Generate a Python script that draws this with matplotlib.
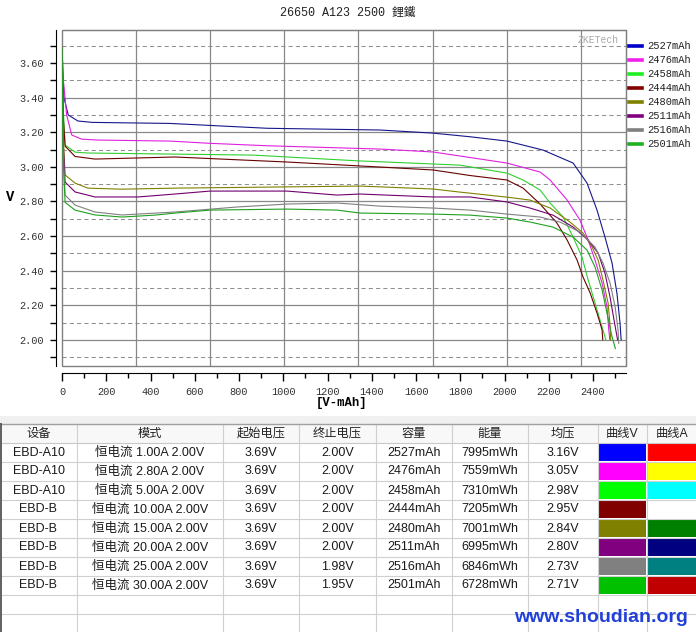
import matplotlib
matplotlib.use("Agg")
import numpy as np
import matplotlib.pyplot as plt
from matplotlib.lines import Line2D
from matplotlib.patches import Rectangle
from matplotlib.ticker import MultipleLocator, FormatStrFormatter

W, H = 696, 632

# curves: capacity (mAh) and voltage (V)
c1_mah = [0, 9, 28, 72, 136, 488, 927, 1437, 1677, 1844, 2011, 2174, 2310, 2373, 2418, 2454, 2486, 2508, 2522, 2527]
c1_v = [3.69, 3.40, 3.30, 3.265, 3.257, 3.251, 3.223, 3.213, 3.195, 3.174, 3.149, 3.097, 3.022, 2.906, 2.750, 2.594, 2.444, 2.270, 2.097, 2.00]

c2_mah = [0, 3, 21, 44, 89, 163, 488, 669, 927, 1437, 1677, 2011, 2161, 2206, 2283, 2341, 2378, 2409, 2441, 2463, 2471, 2476]
c2_v = [3.69, 3.54, 3.30, 3.184, 3.16, 3.155, 3.149, 3.136, 3.122, 3.103, 3.086, 3.022, 2.970, 2.924, 2.808, 2.692, 2.577, 2.461, 2.328, 2.190, 2.06, 2.00]

c3_mah = [0, 5, 14, 59, 117, 488, 863, 1333, 1799, 2011, 2084, 2161, 2206, 2265, 2310, 2350, 2378, 2409, 2441, 2458]
c3_v = [3.69, 3.35, 3.126, 3.085, 3.08, 3.074, 3.068, 3.035, 3.010, 2.964, 2.924, 2.866, 2.791, 2.710, 2.594, 2.479, 2.346, 2.213, 2.074, 2.00]

c4_mah = [0, 5, 14, 59, 149, 511, 1017, 1437, 1677, 1844, 2011, 2084, 2161, 2237, 2283, 2328, 2355, 2387, 2418, 2441, 2444]
c4_v = [3.69, 3.30, 3.12, 3.06, 3.045, 3.057, 3.028, 2.999, 2.982, 2.95, 2.924, 2.877, 2.785, 2.675, 2.577, 2.461, 2.363, 2.271, 2.155, 2.057, 2.00]

c5_mah = [0, 5, 14, 59, 117, 271, 511, 1347, 1677, 1799, 2011, 2115, 2206, 2296, 2355, 2396, 2423, 2445, 2468, 2476, 2480]
c5_v = [3.69, 3.20, 2.953, 2.906, 2.877, 2.871, 2.877, 2.889, 2.872, 2.854, 2.825, 2.808, 2.762, 2.681, 2.617, 2.536, 2.461, 2.346, 2.213, 2.10, 2.00]

c6_mah = [0, 5, 14, 59, 149, 344, 511, 669, 1017, 1243, 1347, 1677, 1844, 2011, 2115, 2219, 2310, 2378, 2423, 2454, 2477, 2495, 2511]
c6_v = [3.69, 3.15, 2.912, 2.855, 2.826, 2.826, 2.843, 2.860, 2.860, 2.837, 2.843, 2.826, 2.826, 2.797, 2.762, 2.721, 2.652, 2.577, 2.502, 2.386, 2.247, 2.114, 2.00]

c7_mah = [0, 5, 14, 59, 149, 271, 511, 791, 1017, 1243, 1437, 1677, 1844, 2011, 2161, 2251, 2341, 2409, 2445, 2477, 2500, 2513, 2516]
c7_v = [3.69, 3.10, 2.837, 2.779, 2.739, 2.722, 2.739, 2.768, 2.785, 2.791, 2.773, 2.762, 2.750, 2.727, 2.710, 2.681, 2.623, 2.536, 2.444, 2.328, 2.190, 2.057, 1.98]

c8_mah = [0, 5, 14, 59, 149, 271, 420, 511, 669, 1017, 1243, 1347, 1677, 1844, 2011, 2115, 2219, 2310, 2373, 2409, 2441, 2463, 2486, 2501]
c8_v = [3.69, 3.05, 2.795, 2.750, 2.722, 2.710, 2.721, 2.733, 2.750, 2.756, 2.750, 2.733, 2.727, 2.721, 2.704, 2.681, 2.652, 2.594, 2.519, 2.421, 2.288, 2.155, 2.017, 1.95]

# table values
devices = ["EBD-A10", "EBD-A10", "EBD-A10", "EBD-B", "EBD-B", "EBD-B", "EBD-B", "EBD-B"]
modes = ["恒电流 1.00A 2.00V", "恒电流 2.80A 2.00V", "恒电流 5.00A 2.00V", "恒电流 10.00A 2.00V",
         "恒电流 15.00A 2.00V", "恒电流 20.00A 2.00V", "恒电流 25.00A 2.00V", "恒电流 30.00A 2.00V"]
v_start = ["3.69V"] * 8
v_end = ["2.00V", "2.00V", "2.00V", "2.00V", "2.00V", "2.00V", "1.98V", "1.95V"]
capacity = ["2527mAh", "2476mAh", "2458mAh", "2444mAh", "2480mAh", "2511mAh", "2516mAh", "2501mAh"]
energy = ["7995mWh", "7559mWh", "7310mWh", "7205mWh", "7001mWh", "6995mWh", "6846mWh", "6728mWh"]
v_avg = ["3.16V", "3.05V", "2.98V", "2.95V", "2.84V", "2.80V", "2.73V", "2.71V"]
headers = ["设备", "模式", "起始电压", "终止电压", "容量", "能量", "均压", "曲线V", "曲线A"]

col_v = ["#0000ff", "#ff00ff", "#00ff00", "#800000", "#808000", "#800080", "#808080", "#00c000"]
col_a = ["#ff0000", "#ffff00", "#00ffff", "#ffffff", "#008000", "#000080", "#008080", "#c00000"]
line_cols = ["#16168c", "#e020e0", "#30d030", "#6a0000", "#808000", "#700070", "#808080", "#20a020"]
leg_cols = ["#0000c8", "#f020f0", "#20f020", "#800000", "#808000", "#800080", "#808080", "#20b020"]

series = [(c1_mah, c1_v), (c2_mah, c2_v), (c3_mah, c3_v), (c4_mah, c4_v),
          (c5_mah, c5_v), (c6_mah, c6_v), (c7_mah, c7_v), (c8_mah, c8_v)]

mono = "Liberation Mono"
cjk_mix = ["Liberation Mono", "Noto Sans CJK TC"]
tab_font = ["Liberation Sans", "Noto Sans CJK SC"]

fig = plt.figure(figsize=(W / 100, H / 100), dpi=100)
fig.patch.set_facecolor("white")

def fx(px):
    return px / W

def fy(py):
    return 1 - py / H

# ---- chart ----
ax = fig.add_axes([fx(62), fy(366), 564 / W, 336 / H])
ax.set_xlim(0, 2549)
ax.set_ylim(1.849, 3.791)

for y in np.arange(2.0, 3.61, 0.2):
    ax.axhline(y, color="#888888", lw=0.9, zorder=1)
for y in np.arange(1.9, 3.71, 0.2):
    ax.axhline(y, color="#909090", lw=0.75, ls=(0, (4, 3)), zorder=1)
for k in range(1, 8):
    ax.axvline(k * 335, color="#888888", lw=0.9, zorder=1)

for (x, v), c in zip(series, line_cols):
    ax.plot(x, v, color=c, lw=0.8, zorder=3)

for s in ["top", "right"]:
    ax.spines[s].set_color("#808080")
ax.spines["left"].set_position(("outward", 4))
ax.spines["bottom"].set_position(("outward", 5))
ax.spines["left"].set_color("black")
ax.spines["bottom"].set_color("black")
ax.add_patch(Rectangle((0, 0), 1, 1, transform=ax.transAxes, fill=False,
                       ec="#808080", lw=1, clip_on=False, zorder=2))

ax.yaxis.set_major_locator(MultipleLocator(0.2))
ax.yaxis.set_minor_locator(MultipleLocator(0.1))
ax.yaxis.set_major_formatter(FormatStrFormatter("%.2f"))
ax.xaxis.set_major_locator(MultipleLocator(200))
ax.xaxis.set_minor_locator(MultipleLocator(100))
ax.tick_params(axis="y", which="both", length=4, width=1, color="black", pad=5)
ax.tick_params(axis="x", which="major", length=6, width=1, color="black", pad=4)
ax.tick_params(axis="x", which="minor", length=3.5, width=1, color="black")
for lab in ax.get_xticklabels() + ax.get_yticklabels():
    lab.set_fontfamily(mono)
    lab.set_fontsize(7.4)
    lab.set_color("#333333")

fig.text(fx(348), fy(13), "26650 A123 2500 鋰鐵", ha="center", va="center",
         family=cjk_mix, fontsize=8.5, color="#222222")
fig.text(fx(10), fy(197), "V", ha="center", va="center", family=mono,
         fontweight="bold", fontsize=10)
fig.text(fx(342), fy(403), "[V-mAh]", ha="center", va="center", family=mono,
         fontweight="bold", fontsize=8.8)
fig.text(fx(598), fy(40), "ZKETech", ha="center", va="center", family=mono,
         fontsize=7, color="#a8a8a8")

# legend
for i, (lab, c) in enumerate(zip(capacity, leg_cols)):
    yy = fy(46 + 14 * i)
    fig.add_artist(Line2D([fx(629), fx(642)], [yy, yy], color=c, lw=2.6,
                          transform=fig.transFigure))
    fig.text(fx(647), yy, lab, va="center", ha="left", family=mono,
             fontsize=7.5, color="#222222")

# ---- table ----
tab = fig.add_axes([0, 0, 1, 1])
tab.set_xlim(0, W)
tab.set_ylim(H, 0)
tab.axis("off")

tab.add_patch(Rectangle((0, 416), W, 8, color="#f0f0f0", lw=0))
tab.add_patch(Rectangle((0, 424), W, 19, color="#f8f8f8", lw=0))

col_edges = [0, 77, 223, 299, 376, 452, 528, 598, 647, 697]
row_top = 443
row_h = 19
n_rows = 10

for xe in col_edges[1:-1]:
    tab.plot([xe, xe], [424, H], color="#d0d0d0", lw=0.8)
tab.plot([0, W], [424, 424], color="#a0a0a0", lw=1)
tab.plot([0, W], [443, 443], color="#c8c8c8", lw=0.8)
for r in range(1, n_rows + 1):
    yy = row_top + r * row_h
    tab.plot([0, W], [yy, yy], color="#d0d0d0", lw=0.8)
tab.plot([0.7, 0.7], [424, H], color="#606060", lw=1.4)

centers = [(col_edges[i] + col_edges[i + 1]) / 2 for i in range(len(col_edges) - 1)]
for c, h in zip(centers, headers):
    tab.text(c, 433.5, h, ha="center", va="center", family=tab_font,
             fontsize=8.8, color="#222222")

cols = [devices, modes, v_start, v_end, capacity, energy, v_avg]
for r in range(len(devices)):
    yc = row_top + r * row_h + row_h / 2
    for ci, vals in enumerate(cols):
        tab.text(centers[ci], yc, vals[r], ha="center", va="center",
                 family=tab_font, fontsize=9, color="#1a1a1a")
    y0 = row_top + r * row_h + 1
    tab.add_patch(Rectangle((col_edges[7] + 1, y0), col_edges[8] - col_edges[7] - 2,
                            row_h - 2, color=col_v[r], lw=0))
    tab.add_patch(Rectangle((col_edges[8] + 1, y0), col_edges[9] - col_edges[8] - 2,
                            row_h - 2, color=col_a[r], lw=0))

fig.text(fx(601), fy(618), "www.shoudian.org", ha="center", va="center",
         family="Liberation Sans", fontweight="bold", fontsize=14, color="#2040d8")

fig.savefig("out.png", dpi=100)
